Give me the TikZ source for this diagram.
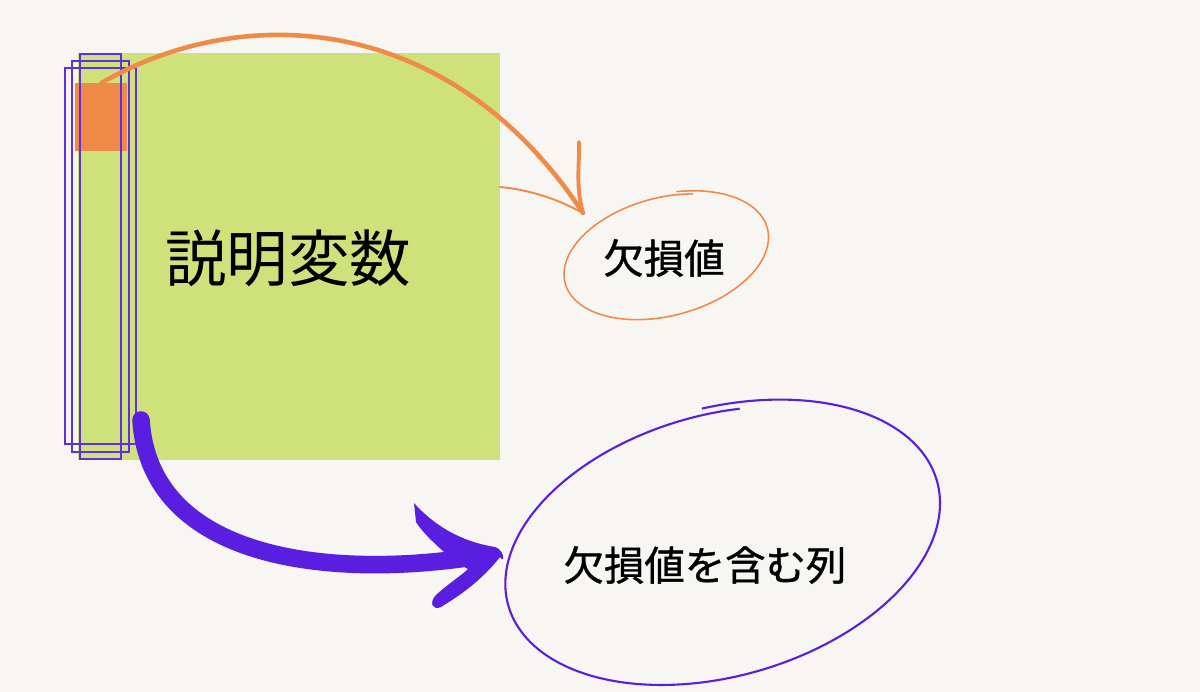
\documentclass[tikz,border=0pt]{standalone}
\usepackage{fontspec}
\usepackage{tikz}
\usetikzlibrary{positioning,calc,arrows.meta}
\newfontfamily\jpfont{Noto Sans CJK JP}
\newfontfamily\jpmedium{Noto Sans CJK JP}[FakeBold=1]
\definecolor{paper}{HTML}{F8F6F2}
\definecolor{leaf}{HTML}{CFE17A}
\definecolor{carrot}{HTML}{F08A48}
\definecolor{ink}{HTML}{5A1EE0}
\definecolor{frame}{HTML}{5F2FE6}
\tikzset{
  block/.style={inner sep=0pt, anchor=north west},
  colline/.style={draw=frame, line width=1.1pt},
  chalk/.style={draw=carrot, line width=2.6pt, line cap=round},
  brush/.style={draw=ink, line width=10pt, line cap=round},
  jptext/.style={font=\jpmedium\fontsize{23}{28}\selectfont}
}

\begin{document}
\begin{tikzpicture}[x=0.02cm, y=-0.02cm]
    \fill[paper] (0,0) rectangle (1200,692);
    \useasboundingbox (0,0) rectangle (1200,692);

    % Data block
    \node[block, fill=leaf, minimum width=8.44cm, minimum height=8.14cm] (data) at (78,53) {};
    \node[font=\jpfont\fontsize{35}{40}\selectfont] (xvars) at (288,258) {説明変数};
    \node[block, fill=carrot, minimum width=1.04cm, minimum height=1.36cm] (cell) at (75,83) {};

    % Column frames
    \foreach \l/\t/\r/\b in {65/68/136/444, 72/61/129/452, 80/54/121/459}
        \draw[colline] (\l,\t) rectangle (\r,\b);

    % Labels
    \node[jptext] (nan) at (664,258) {欠損値};
    \node[jptext] (nancol) at (705,565) {欠損値を含む列};

    % Hand drawn rings
    \draw[carrot, line width=0.9pt] plot[domain=-75:295, samples=150, smooth]
        ({665 + (1.02-0.05*(\x+75)/370)*(105*cos(\x)*cos(-15) - 60*sin(\x)*sin(-15))},
         {256 + (1.02-0.05*(\x+75)/370)*(105*cos(\x)*sin(-15) + 60*sin(\x)*cos(-15))});
    \draw[ink, line width=1.2pt] plot[domain=-85:285, samples=150, smooth]
        ({720 + (1.02-0.05*(\x+85)/370)*(224*cos(\x)*cos(-16) - 133*sin(\x)*sin(-16))},
         {544 + (1.02-0.05*(\x+85)/370)*(224*cos(\x)*sin(-16) + 133*sin(\x)*cos(-16))});

    % Orange arrow
    \coordinate (tip1) at (583,213);
    \draw[chalk] (cell.north) .. controls (245,0) and (451,13) .. (tip1);
    \draw[chalk, line width=2.2pt] (tip1) .. controls (575,185) and (580,160) .. ++(-4,-71);
    \draw[chalk, line width=1.1pt] (tip1) .. controls (555,198) and (530,190) .. ++(-83,-26);

    % Purple arrow
    \coordinate (colend) at (141,420);
    \coordinate (tip2) at (500,557);
    \draw[brush] (colend) .. controls (150,560) and (330,580) .. (480,556);
    \fill[ink] (414,503) .. controls (440,532) and (470,543) .. (495,547)
        .. controls (505,550) and (505,565) .. (tip2)
        .. controls (478,585) and (452,600) .. (441,607)
        .. controls (432,611) and (429,602) .. (436,595)
        .. controls (448,584) and (462,575) .. (468,569)
        -- (455,562)
        .. controls (440,548) and (424,535) .. (416,522) -- cycle;
\end{tikzpicture}
\end{document}
